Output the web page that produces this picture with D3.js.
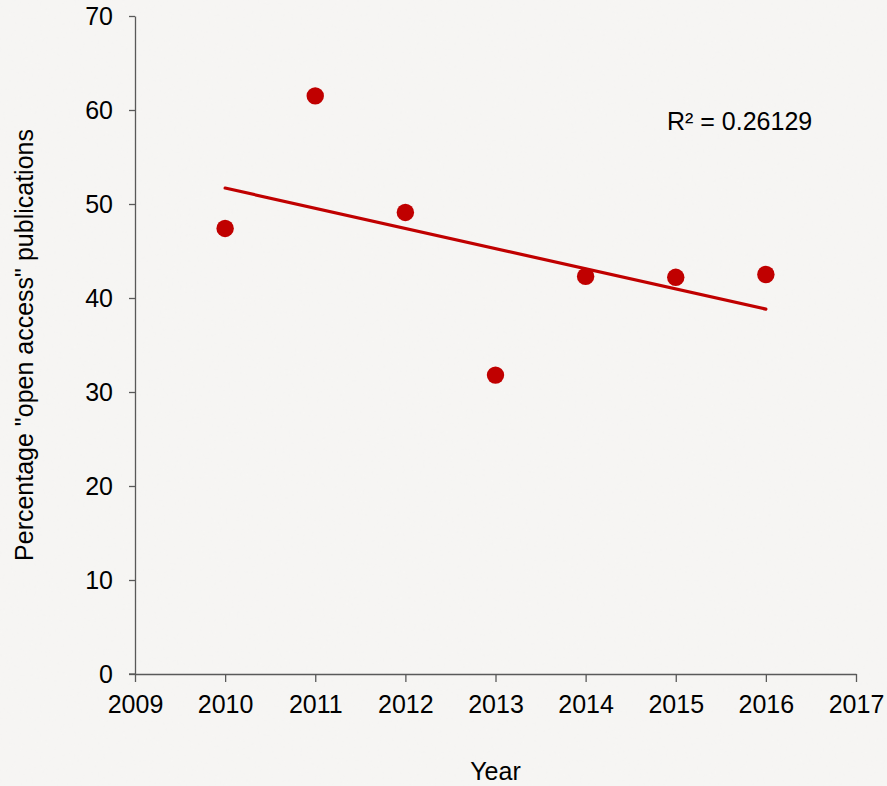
<!DOCTYPE html>
<html>
<head>
<meta charset="utf-8">
<script src="https://cdn.jsdelivr.net/npm/d3@7"></script>
<style>
  html, body { margin: 0; padding: 0; background: #f4f3f1; }
  svg { display: block; }
  text { font-family: "Liberation Sans", Arial, sans-serif; fill: #000; }
</style>
</head>
<body>
<svg id="chart" width="887" height="786"></svg>
<script>
const years = [2010, 2011, 2012, 2013, 2014, 2015, 2016];
const percentOpenAccess = [47.4, 61.5, 49.1, 31.8, 42.3, 42.2, 42.5];
const xTicks = [2009, 2010, 2011, 2012, 2013, 2014, 2015, 2016, 2017];
const yTicks = [0, 10, 20, 30, 40, 50, 60, 70];
const rSquaredLabel = "R² = 0.26129";

const svg = d3.select("#chart");
const W = 887, H = 786;
const margin = { left: 135, right: 31, top: 16, bottom: 112 };
const FS = "25px";

// background with subtle texture
const defs = svg.append("defs");
const f = defs.append("filter").attr("id", "noise").attr("x", 0).attr("y", 0).attr("width", "100%").attr("height", "100%");
f.append("feTurbulence").attr("type", "fractalNoise").attr("baseFrequency", 0.35).attr("numOctaves", 2).attr("seed", 3).attr("result", "t");
f.append("feColorMatrix").attr("in", "t").attr("type", "matrix")
  .attr("values", "0 0 0 0 0.6  0 0 0 0 0.6  0 0 0 0 0.6  0 0 0 0.05 0");
svg.append("rect").attr("width", W).attr("height", H).attr("fill", "#f7f6f4");
svg.append("rect").attr("width", W).attr("height", H).attr("filter", "url(#noise)");

const x = d3.scaleLinear().domain([2009, 2017]).range([margin.left, W - margin.right]);
const y = d3.scaleLinear().domain([0, 70]).range([H - margin.bottom, margin.top]);

const axisColor = "#595959";

const xAxis = svg.append("g")
  .attr("transform", `translate(0,${y(0)})`)
  .call(d3.axisBottom(x).tickValues(xTicks).tickFormat(d3.format("d")).tickSize(8).tickSizeOuter(0).tickPadding(13));
const yAxis = svg.append("g")
  .attr("transform", `translate(${x(2009)},0)`)
  .call(d3.axisLeft(y).tickValues(yTicks).tickSize(6).tickSizeOuter(0).tickPadding(16));

[xAxis, yAxis].forEach(g => {
  g.select(".domain").attr("stroke", axisColor).attr("stroke-width", 1.3);
  g.selectAll(".tick line").attr("stroke", axisColor).attr("stroke-width", 1.3);
  g.selectAll(".tick text").style("font-family", '"Liberation Sans", Arial, sans-serif').style("font-size", FS).attr("fill", "#000");
});
// extend x-axis line to the left to meet the y=0 tick
svg.append("line").attr("x1", x(2009) - 6).attr("x2", x(2009)).attr("y1", y(0)).attr("y2", y(0))
  .attr("stroke", axisColor).attr("stroke-width", 1.3);

// Linear trend line (least squares)
const n = years.length;
const mx = d3.mean(years), my = d3.mean(percentOpenAccess);
let sxy = 0, sxx = 0;
for (let i = 0; i < n; i++) { sxy += (years[i] - mx) * (percentOpenAccess[i] - my); sxx += (years[i] - mx) ** 2; }
const slope = sxy / sxx, intercept = my - slope * mx;
const xs = d3.extent(years);
svg.append("line")
  .attr("x1", x(xs[0])).attr("y1", y(intercept + slope * xs[0]))
  .attr("x2", x(xs[1])).attr("y2", y(intercept + slope * xs[1]))
  .attr("stroke", "#c00000").attr("stroke-width", 3.2).attr("stroke-linecap", "round");

// Points
svg.append("g").selectAll("circle")
  .data(years.map((yr, i) => ({ yr, v: percentOpenAccess[i] })))
  .join("circle")
  .attr("cx", d => x(d.yr)).attr("cy", d => y(d.v)).attr("r", 8.7)
  .attr("fill", "#c00000");

// R² label
svg.append("text").attr("x", 667).attr("y", 130).style("font-size", FS).text(rSquaredLabel);

// Axis titles
svg.append("text").attr("x", (x(2009) + x(2017)) / 2).attr("y", 780).attr("text-anchor", "middle")
  .style("font-size", FS).text("Year");
svg.append("text")
  .attr("transform", `translate(33,${(y(0) + y(70)) / 2}) rotate(-90)`)
  .attr("text-anchor", "middle").style("font-size", FS)
  .text('Percentage "open access" publications');
</script>
</body>
</html>
